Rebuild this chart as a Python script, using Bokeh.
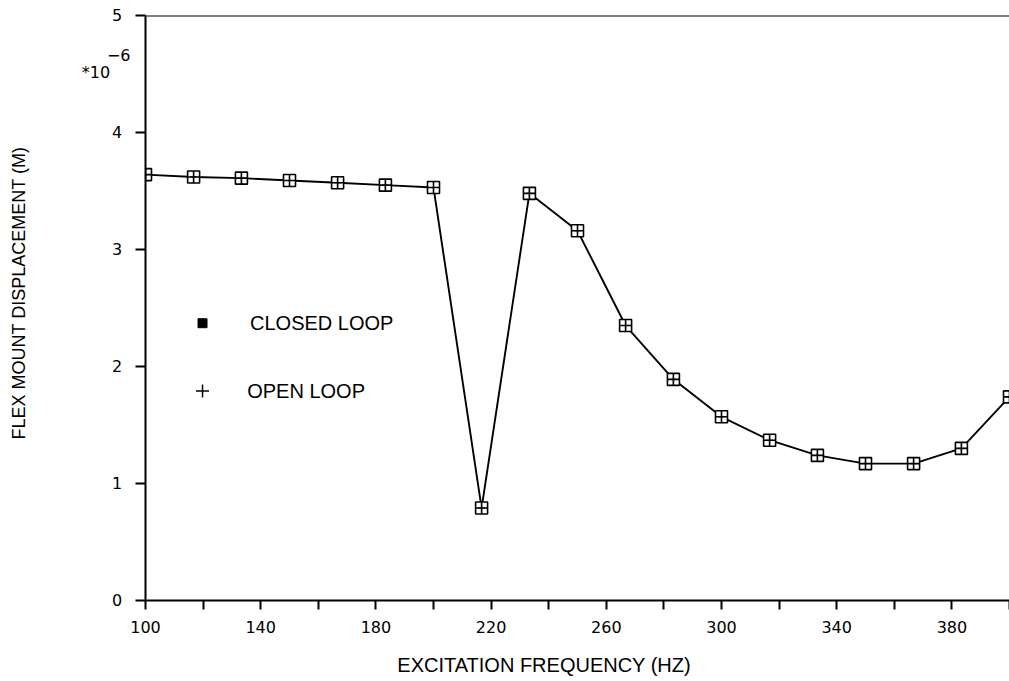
from bokeh.plotting import figure
from bokeh.models import FixedTicker, Label, Span, ColumnDataSource
from bokeh.embed import file_html
from bokeh.resources import INLINE

# ---- data ----
freq_hz = [100, 116.7, 133.3, 150, 166.7, 183.3, 200, 216.7, 233.3, 250,
           266.7, 283.3, 300, 316.7, 333.3, 350, 366.7, 383.3, 400]
closed_loop = [3.64, 3.62, 3.61, 3.59, 3.57, 3.55, 3.53, 0.79, 3.48, 3.16,
               2.35, 1.89, 1.57, 1.37, 1.24, 1.17, 1.17, 1.30, 1.74]
open_loop = [3.64, 3.62, 3.61, 3.59, 3.57, 3.55, 3.53, 0.79, 3.48, 3.16,
             2.35, 1.89, 1.57, 1.37, 1.24, 1.17, 1.17, 1.30, 1.74]
x_major = [100, 140, 180, 220, 260, 300, 340, 380]
x_minor = [120, 160, 200, 240, 280, 320, 360, 400]
y_ticks = [0, 1, 2, 3, 4, 5]
y_tick_labels = ["0", "1", "2", "3", "4", "5"]
exp_positions = [4.51, 4.66]
exp_labels = ["*10", "\u22126"]
legend_names = ["CLOSED LOOP", "OPEN LOOP"]
x_title = "EXCITATION FREQUENCY (HZ)"
y_title = "FLEX MOUNT DISPLACEMENT (M)"

src = ColumnDataSource(dict(x=freq_hz, c=closed_loop, o=open_loop))

p = figure(width=1009, height=681, x_range=(100, 400), y_range=(0, 5),
           output_backend="svg", toolbar_location=None)
p.min_border_left = 145
p.min_border_right = 0
p.min_border_top = 15
p.min_border_bottom = 81
p.outline_line_color = None
p.grid.visible = False

# top frame line
p.add_layout(Span(location=5, dimension="width", line_color="black", line_width=2))

p.line("x", "c", source=src, line_color="black", line_width=1.9)
p.scatter("x", "c", source=src, marker="square_cross", size=12,
          line_color="black", fill_color="white", line_width=1.6)
p.scatter("x", "o", source=src, marker="cross", size=7,
          line_color="black", line_width=1)

# x axis
xa = p.xaxis[0]
xa.ticker = FixedTicker(ticks=x_major, minor_ticks=x_minor)
xa.axis_line_width = 2
xa.major_tick_line_width = 2
xa.minor_tick_line_width = 2
xa.major_tick_out = 9
xa.major_tick_in = 0
xa.minor_tick_out = 9
xa.minor_tick_in = 0
xa.major_label_standoff = 11
xa.major_label_text_font = "DejaVu Sans"
xa.major_label_text_font_size = "16px"
xa.major_label_text_color = "black"
xa.axis_label = x_title + "\u00a0" * 12
xa.axis_label_text_font = "Liberation Sans"
xa.axis_label_text_font_style = "normal"
xa.axis_label_text_font_size = "20px"
xa.axis_label_text_color = "black"
xa.axis_label_standoff = 18

# y axis: tick marks drawn as "minor" ticks, labels (incl. exponent) as major ticks
pad_digit = "\u00a0\u2009"
pad_exp = "\u00a0\u00a0\u00a0\u00a0"
overrides = {t: lab + pad_digit for t, lab in zip(y_ticks, y_tick_labels)}
overrides[exp_positions[0]] = exp_labels[0] + pad_exp
overrides[exp_positions[1]] = exp_labels[1]
tick_marks = [min(t + 0.0004, 4.9996) for t in y_ticks]

ya = p.yaxis[0]
ya.ticker = FixedTicker(ticks=y_ticks + exp_positions, minor_ticks=tick_marks)
ya.major_label_overrides = overrides
ya.axis_line_width = 2
ya.major_tick_out = 0
ya.major_tick_in = 0
ya.major_tick_line_color = None
ya.minor_tick_line_color = "black"
ya.minor_tick_line_width = 2
ya.minor_tick_out = 10
ya.minor_tick_in = 0
ya.major_label_standoff = 5
ya.major_label_text_font = "DejaVu Sans"
ya.major_label_text_font_size = "16px"
ya.major_label_text_color = "black"
ya.axis_label = "\u00a0" * 6 + y_title
ya.axis_label_text_font = "Liberation Sans"
ya.axis_label_text_font_style = "normal"
ya.axis_label_text_font_size = "18px"
ya.axis_label_text_color = "black"
ya.axis_label_standoff = 50

# manual legend
p.scatter([119.8], [2.37], marker="square_cross", size=9, line_color="black",
          fill_color="black", line_width=1)
p.scatter([119.8], [1.79], marker="cross", size=13, line_color="black", line_width=1.5)
p.add_layout(Label(x=136.3, y=2.37, text=legend_names[0], text_align="left",
                   text_baseline="middle", text_font="Liberation Sans",
                   text_font_size="20px", text_color="black"))
p.add_layout(Label(x=135.3, y=1.79, text=legend_names[1], text_align="left",
                   text_baseline="middle", text_font="Liberation Sans",
                   text_font_size="20px", text_color="black"))

open("out.html", "w").write(file_html(p, INLINE))
